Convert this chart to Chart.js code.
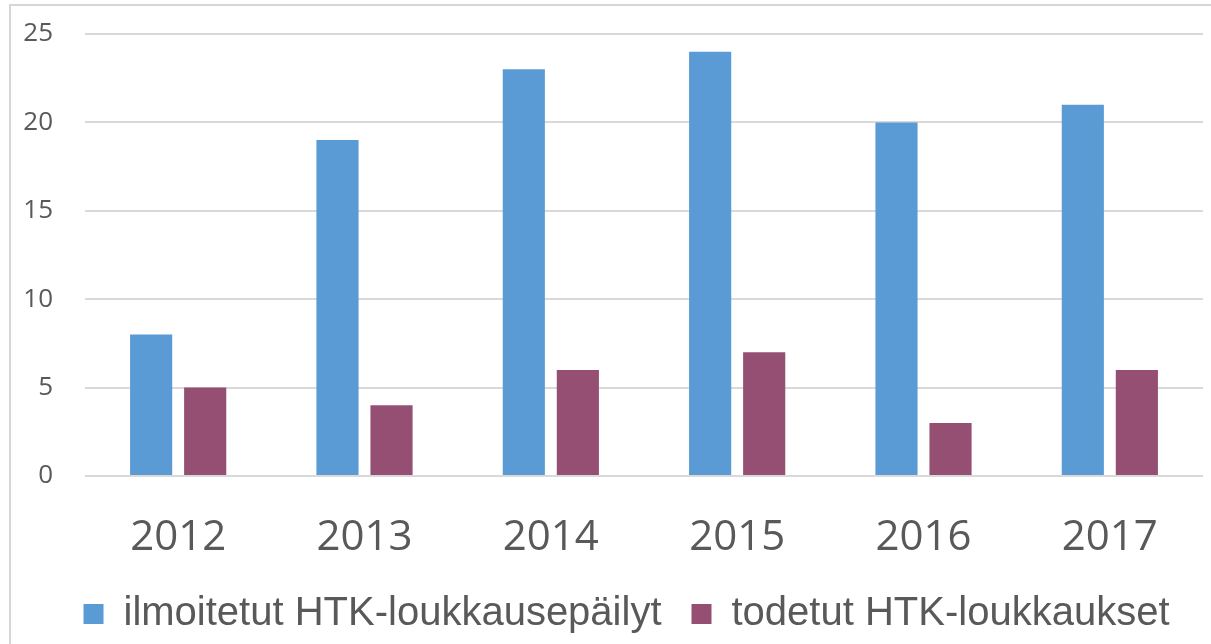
<!DOCTYPE html>
<html>
<head>
<meta charset="utf-8">
<script src="https://cdn.jsdelivr.net/npm/chart.js@4"></script>
<style>
  html, body { margin: 0; padding: 0; background: #fff; }
  #frame {
    position: absolute; left: 9px; top: 4px; width: 1300px; height: 700px;
    border-left: 2px solid #d6d6d6; border-top: 2px solid #d6d6d6;
  }
  #wrap { position: absolute; left: 0; top: 0; width: 1211px; height: 644px; }
</style>
</head>
<body>
<div id="frame"></div>
<div id="wrap"><canvas id="myChart"></canvas></div>
<script>
let years = ['2012', '2013', '2014', '2015', '2016', '2017'];
let ilmoitetut = [8, 19, 23, 24, 20, 21];
let todetut = [5, 4, 6, 7, 3, 6];
let yTicks = [0, 5, 10, 15, 20, 25];

const ctx = document.getElementById('myChart');

// nudge the legend a bit to the right, like in the original
const legendShift = {
  id: 'legendShift',
  afterLayout(chart) {
    chart.legend.left += 20;
    chart.legend.right += 20;
  }
};

new Chart(ctx, {
  type: 'bar',
  data: {
    labels: years,
    datasets: [{
      label: 'ilmoitetut HTK-loukkausepäilyt',
      data: ilmoitetut,
      backgroundColor: '#5B9BD5',
      categoryPercentage: 0.58,
      barPercentage: 0.78
    }, {
      label: 'todetut HTK-loukkaukset',
      data: todetut,
      backgroundColor: '#954F72',
      categoryPercentage: 0.58,
      barPercentage: 0.78
    }]
  },
  plugins: [legendShift],
  options: {
    responsive: true,
    maintainAspectRatio: false,
    animation: false,
    layout: { padding: { left: 10, top: 34, right: 8, bottom: 0 } },
    plugins: {
      tooltip: { enabled: false },
      legend: {
        position: 'bottom',
        labels: {
          font: { family: 'Liberation Sans, Arial', size: 40 },
          color: '#595959',
          boxWidth: 20,
          boxHeight: 20,
          padding: 30
        }
      }
    },
    scales: {
      x: {
        afterFit: function (scale) {
          scale.height = 88;
          scale.paddingLeft = 0;
          scale.paddingRight = 0;
        },
        grid: { display: false, drawTicks: false },
        border: { display: false },
        ticks: {
          font: { family: 'Open Sans', size: 42 },
          color: '#595959',
          padding: 37
        }
      },
      y: {
        min: 0,
        max: yTicks[yTicks.length - 1],
        afterFit: function (scale) {
          scale.width = 75;
          scale.paddingTop = 0;
          scale.paddingBottom = 0;
        },
        afterBuildTicks: function (scale) {
          scale.ticks = yTicks.map(v => ({ value: v }));
        },
        grid: { color: '#d9d9d9', lineWidth: 2, drawTicks: false },
        border: { display: false },
        ticks: {
          font: { family: 'Open Sans', size: 26 },
          color: '#595959',
          padding: 32
        }
      }
    }
  }
});
</script>
</body>
</html>
